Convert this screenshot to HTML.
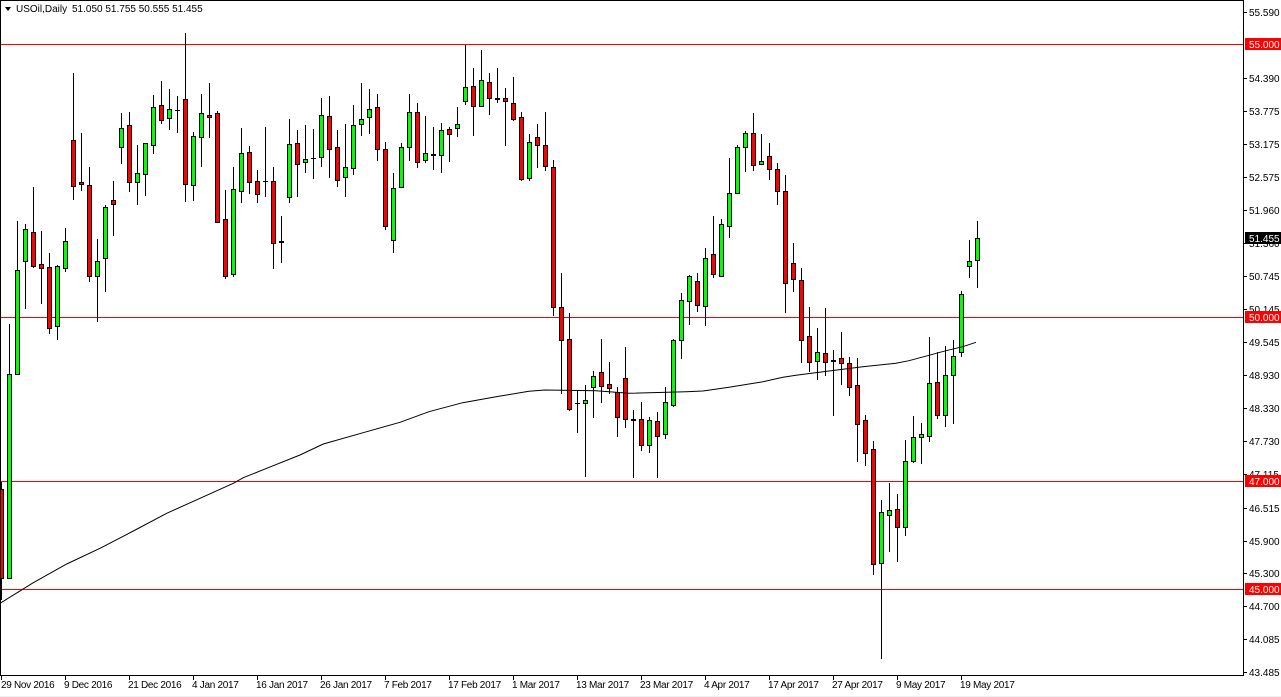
<!DOCTYPE html>
<html>
<head>
<meta charset="utf-8">
<style>
html,body{margin:0;padding:0;background:#fff;}
body{width:1281px;height:697px;overflow:hidden;}
svg{display:block;}
.g{fill:#00ff00;stroke:#000;stroke-width:1;}
.r{fill:#ff0000;stroke:#000;stroke-width:1;}
text{font-family:"Liberation Sans",Arial,sans-serif;font-size:10px;fill:#000;}
</style>
</head>
<body>
<svg width="1281" height="697" viewBox="0 0 1281 697" xmlns="http://www.w3.org/2000/svg">
<rect x="0" y="0" width="1281" height="697" fill="#fff"/>
<rect x="0" y="696" width="1281" height="1" fill="#f0f0f0"/>
<g shape-rendering="crispEdges">
<!-- horizontal levels -->
<rect x="0" y="44" width="1243" height="1" fill="#ff0000"/>
<rect x="0" y="317" width="1243" height="1" fill="#ff0000"/>
<rect x="0" y="481" width="1243" height="1" fill="#ff0000"/>
<rect x="0" y="589" width="1243" height="1" fill="#ff0000"/>
<!-- wicks -->
<path fill="none" stroke="#000" stroke-width="1" d="M1.5 482V600M9.5 324V578M17.5 221V374M25.5 224V309M33.5 187V268M41.5 231V304M49.5 253V334M57.5 265V340M65.5 228V272M73.5 73V200M81.5 133V191M89.5 167V282M97.5 239V322M105.5 205V292M113.5 181V236M121.5 113V164M129.5 112V192M137.5 145V205M145.5 143V196M153.5 95V154M161.5 81V124M169.5 89V130M177.5 96V133M185.5 33V202M193.5 132V201M201.5 94V167M209.5 83V138M217.5 111V223M225.5 190V279M233.5 167V277M241.5 128V203M249.5 146V194M257.5 170V203M265.5 127V197M273.5 167V269M281.5 216V263M289.5 119V203M297.5 130V197M305.5 125V173M313.5 129V179M321.5 98V167M329.5 96V178M337.5 130V187M345.5 124V197M353.5 105V175M361.5 83V136M369.5 89V134M377.5 94V161M385.5 142V230M393.5 173V253M401.5 143V187M409.5 94V161M417.5 103V168M425.5 116V163M433.5 127V170M441.5 123V173M449.5 127V162M457.5 107V137M465.5 45V105M473.5 68V136M481.5 50V107M489.5 73V115M497.5 68V103M505.5 88V146M513.5 77V121M521.5 112V181M529.5 134V181M537.5 124V168M545.5 112V171M553.5 160V316M561.5 273V394M569.5 313V411M577.5 390V433M585.5 385V477M593.5 371V418M601.5 339V403M609.5 362V394M617.5 387V437M625.5 347V428M633.5 410V478M641.5 402V451M649.5 417V453M657.5 412V478M665.5 387V439M673.5 339V407M681.5 293V359M689.5 275V325M697.5 273V312M705.5 248V326M713.5 216V278M721.5 219V277M729.5 158V238M737.5 145V193M745.5 131V172M753.5 113V171M761.5 134V164M769.5 143V180M777.5 163V205M785.5 175V313M793.5 243V292M801.5 268V363M809.5 307V372M817.5 328V380M825.5 308V376M833.5 350V416M841.5 332V385M849.5 357V396M857.5 358V462M865.5 415V466M873.5 441V575M881.5 500V659M889.5 483V552M897.5 494V562M905.5 440V536M913.5 416V463M921.5 423V464M929.5 337V442M937.5 352V419M945.5 346V427M953.5 340V424M961.5 291V357M969.5 240V278M977.5 221V288"/>
<!-- doji -->
<path fill="none" stroke="#000" stroke-width="1" d="M175 110.5h5M263 181.5h5M311 158.5h5M575 403.5h5"/>
<path fill="none" stroke="#000" stroke-width="2" d="M279 242h5M431 155h5M495 99h5M631 420h5M831 361h5"/>
<!-- bodies -->
<rect class="r" x="-0.5" y="489.5" width="4" height="89"/>
<rect class="g" x="7.5" y="374.5" width="4" height="204"/>
<rect class="g" x="15.5" y="270.5" width="4" height="104"/>
<rect class="g" x="23.5" y="229.5" width="4" height="32"/>
<rect class="r" x="31.5" y="232.5" width="4" height="34"/>
<rect class="r" x="39.5" y="264.5" width="4" height="4"/>
<rect class="r" x="47.5" y="267.5" width="4" height="61"/>
<rect class="g" x="55.5" y="266.5" width="4" height="60"/>
<rect class="g" x="63.5" y="241.5" width="4" height="27"/>
<rect class="r" x="71.5" y="140.5" width="4" height="46"/>
<rect class="r" x="79.5" y="182.5" width="4" height="2"/>
<rect class="r" x="87.5" y="185.5" width="4" height="91"/>
<rect class="g" x="95.5" y="261.5" width="4" height="15"/>
<rect class="g" x="103.5" y="207.5" width="4" height="51"/>
<rect class="r" x="111.5" y="200.5" width="4" height="4"/>
<rect class="g" x="119.5" y="128.5" width="4" height="19"/>
<rect class="r" x="127.5" y="125.5" width="4" height="57"/>
<rect class="g" x="135.5" y="173.5" width="4" height="9"/>
<rect class="g" x="143.5" y="143.5" width="4" height="31"/>
<rect class="g" x="151.5" y="107.5" width="4" height="38"/>
<rect class="r" x="159.5" y="105.5" width="4" height="15"/>
<rect class="g" x="167.5" y="109.5" width="4" height="9"/>
<rect class="r" x="183.5" y="99.5" width="4" height="85"/>
<rect class="g" x="191.5" y="136.5" width="4" height="49"/>
<rect class="g" x="199.5" y="113.5" width="4" height="24"/>
<rect class="r" x="207.5" y="115.5" width="4" height="2"/>
<rect class="r" x="215.5" y="113.5" width="4" height="109"/>
<rect class="r" x="223.5" y="219.5" width="4" height="57"/>
<rect class="g" x="231.5" y="189.5" width="4" height="85"/>
<rect class="g" x="239.5" y="153.5" width="4" height="38"/>
<rect class="r" x="247.5" y="152.5" width="4" height="30"/>
<rect class="r" x="255.5" y="181.5" width="4" height="13"/>
<rect class="r" x="271.5" y="181.5" width="4" height="62"/>
<rect class="g" x="287.5" y="144.5" width="4" height="53"/>
<rect class="r" x="295.5" y="143.5" width="4" height="21"/>
<rect class="g" x="303.5" y="159.5" width="4" height="3"/>
<rect class="g" x="319.5" y="115.5" width="4" height="42"/>
<rect class="r" x="327.5" y="116.5" width="4" height="33"/>
<rect class="r" x="335.5" y="147.5" width="4" height="33"/>
<rect class="g" x="343.5" y="167.5" width="4" height="10"/>
<rect class="g" x="351.5" y="125.5" width="4" height="43"/>
<rect class="g" x="359.5" y="119.5" width="4" height="5"/>
<rect class="g" x="367.5" y="109.5" width="4" height="8"/>
<rect class="r" x="375.5" y="107.5" width="4" height="42"/>
<rect class="r" x="383.5" y="149.5" width="4" height="77"/>
<rect class="g" x="391.5" y="188.5" width="4" height="52"/>
<rect class="g" x="399.5" y="147.5" width="4" height="40"/>
<rect class="g" x="407.5" y="112.5" width="4" height="35"/>
<rect class="r" x="415.5" y="112.5" width="4" height="50"/>
<rect class="g" x="423.5" y="153.5" width="4" height="7"/>
<rect class="g" x="439.5" y="130.5" width="4" height="25"/>
<rect class="r" x="447.5" y="129.5" width="4" height="5"/>
<rect class="g" x="455.5" y="124.5" width="4" height="4"/>
<rect class="g" x="463.5" y="87.5" width="4" height="14"/>
<rect class="r" x="471.5" y="86.5" width="4" height="20"/>
<rect class="g" x="479.5" y="80.5" width="4" height="26"/>
<rect class="r" x="487.5" y="82.5" width="4" height="16"/>
<rect class="r" x="503.5" y="98.5" width="4" height="3"/>
<rect class="r" x="511.5" y="103.5" width="4" height="16"/>
<rect class="r" x="519.5" y="117.5" width="4" height="62"/>
<rect class="g" x="527.5" y="142.5" width="4" height="36"/>
<rect class="r" x="535.5" y="137.5" width="4" height="8"/>
<rect class="r" x="543.5" y="145.5" width="4" height="21"/>
<rect class="r" x="551.5" y="167.5" width="4" height="140"/>
<rect class="r" x="559.5" y="307.5" width="4" height="33"/>
<rect class="r" x="567.5" y="339.5" width="4" height="70"/>
<rect class="g" x="583.5" y="400.5" width="4" height="3"/>
<rect class="g" x="591.5" y="376.5" width="4" height="11"/>
<rect class="r" x="599.5" y="372.5" width="4" height="14"/>
<rect class="r" x="607.5" y="384.5" width="4" height="4"/>
<rect class="r" x="615.5" y="392.5" width="4" height="25"/>
<rect class="r" x="623.5" y="378.5" width="4" height="41"/>
<rect class="r" x="639.5" y="419.5" width="4" height="26"/>
<rect class="g" x="647.5" y="420.5" width="4" height="25"/>
<rect class="r" x="655.5" y="421.5" width="4" height="15"/>
<rect class="g" x="663.5" y="402.5" width="4" height="32"/>
<rect class="g" x="671.5" y="340.5" width="4" height="65"/>
<rect class="g" x="679.5" y="300.5" width="4" height="40"/>
<rect class="g" x="687.5" y="276.5" width="4" height="25"/>
<rect class="r" x="695.5" y="281.5" width="4" height="24"/>
<rect class="g" x="703.5" y="258.5" width="4" height="48"/>
<rect class="r" x="711.5" y="254.5" width="4" height="20"/>
<rect class="g" x="719.5" y="224.5" width="4" height="52"/>
<rect class="g" x="727.5" y="193.5" width="4" height="33"/>
<rect class="g" x="735.5" y="147.5" width="4" height="46"/>
<rect class="g" x="743.5" y="133.5" width="4" height="14"/>
<rect class="r" x="751.5" y="133.5" width="4" height="32"/>
<rect class="g" x="759.5" y="161.5" width="4" height="3"/>
<rect class="r" x="767.5" y="156.5" width="4" height="13"/>
<rect class="r" x="775.5" y="169.5" width="4" height="22"/>
<rect class="r" x="783.5" y="191.5" width="4" height="92"/>
<rect class="r" x="791.5" y="263.5" width="4" height="16"/>
<rect class="r" x="799.5" y="280.5" width="4" height="60"/>
<rect class="r" x="807.5" y="336.5" width="4" height="26"/>
<rect class="g" x="815.5" y="352.5" width="4" height="9"/>
<rect class="r" x="823.5" y="353.5" width="4" height="9"/>
<rect class="r" x="839.5" y="358.5" width="4" height="5"/>
<rect class="r" x="847.5" y="363.5" width="4" height="24"/>
<rect class="r" x="855.5" y="385.5" width="4" height="39"/>
<rect class="r" x="863.5" y="420.5" width="4" height="33"/>
<rect class="r" x="871.5" y="449.5" width="4" height="115"/>
<rect class="g" x="879.5" y="512.5" width="4" height="51"/>
<rect class="g" x="887.5" y="510.5" width="4" height="5"/>
<rect class="r" x="895.5" y="509.5" width="4" height="18"/>
<rect class="g" x="903.5" y="461.5" width="4" height="66"/>
<rect class="g" x="911.5" y="437.5" width="4" height="24"/>
<rect class="g" x="919.5" y="434.5" width="4" height="3"/>
<rect class="g" x="927.5" y="383.5" width="4" height="53"/>
<rect class="r" x="935.5" y="382.5" width="4" height="33"/>
<rect class="g" x="943.5" y="375.5" width="4" height="40"/>
<rect class="g" x="951.5" y="356.5" width="4" height="19"/>
<rect class="g" x="959.5" y="294.5" width="4" height="58"/>
<rect class="g" x="967.5" y="261.5" width="4" height="5"/>
<rect class="g" x="975.5" y="238.5" width="4" height="22"/>
</g>
<!-- moving average -->
<polyline fill="none" stroke="#000" stroke-width="1" points="0,603.3 33.3,582.7 66.7,564 100,548.3 133.3,531 166.7,513.3 200,498.3 233.3,483.3 243.3,477.7 266.7,468.3 300,455 323.3,444 366.7,431.7 400,422.3 429,411.7 462.7,402.7 496,396.7 529,391.3 545,390 596,390.7 629,393.3 686,391.7 703,391 729,387.3 763,381.7 783,377.3 796,375.3 829,371 862.7,366.7 896,363.3 909,360.7 929,355.3 946,350.7 962.7,346.7 976,342.3"/>
<g shape-rendering="crispEdges">
<!-- frame -->
<rect x="0" y="0" width="1244" height="1" fill="#000"/>
<rect x="0" y="0" width="1" height="676" fill="#000"/>
<rect x="1243" y="0" width="1" height="676" fill="#000"/>
<rect x="0" y="675" width="1244" height="1" fill="#000"/>
<!-- price ticks -->
<path fill="none" stroke="#000" stroke-width="1" d="M1243 12.5h4M1243 78.5h4M1243 111.5h4M1243 144.5h4M1243 177.5h4M1243 210.5h4M1243 243.5h4M1243 276.5h4M1243 309.5h4M1243 342.5h4M1243 375.5h4M1243 408.5h4M1243 441.5h4M1243 474.5h4M1243 508.5h4M1243 541.5h4M1243 573.5h4M1243 606.5h4M1243 639.5h4M1243 672.5h4"/>
<!-- date ticks -->
<path fill="none" stroke="#000" stroke-width="1" d="M1.5 675V680M65.5 675V680M129.5 675V680M193.5 675V680M257.5 675V680M321.5 675V680M385.5 675V680M449.5 675V680M513.5 675V680M577.5 675V680M641.5 675V680M705.5 675V680M769.5 675V680M833.5 675V680M897.5 675V680M961.5 675V680"/>
</g>
<!-- price labels -->
<g>
<text x="1249" y="16">55.590</text>
<text x="1249" y="82">54.390</text>
<text x="1249" y="115">53.775</text>
<text x="1249" y="148">53.175</text>
<text x="1249" y="181">52.575</text>
<text x="1249" y="214">51.960</text>
<text x="1249" y="247">51.360</text>
<text x="1249" y="280">50.745</text>
<text x="1249" y="313">50.145</text>
<text x="1249" y="346">49.545</text>
<text x="1249" y="379">48.930</text>
<text x="1249" y="412">48.330</text>
<text x="1249" y="445">47.730</text>
<text x="1249" y="478">47.115</text>
<text x="1249" y="512">46.515</text>
<text x="1249" y="545">45.900</text>
<text x="1249" y="577">45.300</text>
<text x="1249" y="610">44.700</text>
<text x="1249" y="643">44.085</text>
<text x="1249" y="676">43.485</text>
</g>
<g shape-rendering="crispEdges">
<rect x="1245" y="38" width="36" height="12" fill="#ff0000"/>
<rect x="1245" y="311" width="36" height="12" fill="#ff0000"/>
<rect x="1245" y="475" width="36" height="12" fill="#ff0000"/>
<rect x="1245" y="583" width="36" height="12" fill="#ff0000"/>
<rect x="1245" y="232" width="36" height="12" fill="#000"/>
</g>
<g style="fill:#fff">
<text x="1249" y="48" style="fill:#fff">55.000</text>
<text x="1249" y="321" style="fill:#fff">50.000</text>
<text x="1249" y="485" style="fill:#fff">47.000</text>
<text x="1249" y="593" style="fill:#fff">45.000</text>
<text x="1249" y="242" style="fill:#fff">51.455</text>
</g>
<!-- date labels -->
<g style="letter-spacing:-0.3px">
<text x="1" y="688">29 Nov 2016</text>
<text x="64" y="688">9 Dec 2016</text>
<text x="128" y="688">21 Dec 2016</text>
<text x="192" y="688">4 Jan 2017</text>
<text x="256" y="688">16 Jan 2017</text>
<text x="320" y="688">26 Jan 2017</text>
<text x="384" y="688">7 Feb 2017</text>
<text x="448" y="688">17 Feb 2017</text>
<text x="512" y="688">1 Mar 2017</text>
<text x="576" y="688">13 Mar 2017</text>
<text x="640" y="688">23 Mar 2017</text>
<text x="704" y="688">4 Apr 2017</text>
<text x="768" y="688">17 Apr 2017</text>
<text x="832" y="688">27 Apr 2017</text>
<text x="896" y="688">9 May 2017</text>
<text x="960" y="688">19 May 2017</text>
</g>
<!-- title -->
<polygon points="5,7 11,7 8,11" fill="#000"/>
<text x="16" y="12">USOil,Daily</text>
<text x="72" y="12">51.050 51.755 50.555 51.455</text>
</svg>
</body>
</html>
